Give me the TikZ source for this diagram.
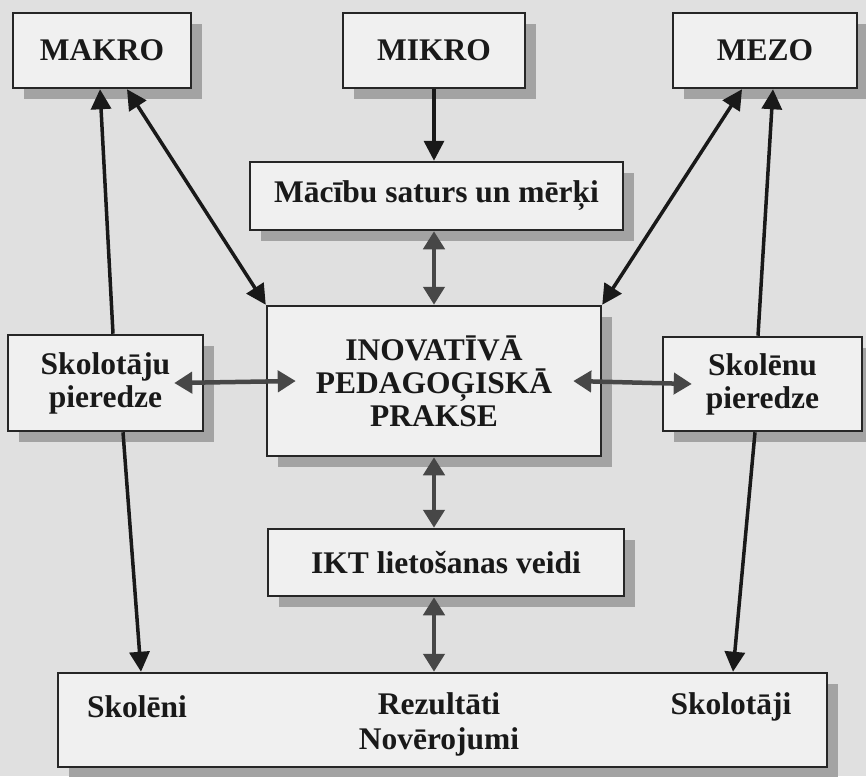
\documentclass[tikz,border=0pt]{standalone}
\usepackage{fontspec}
\setmainfont{Liberation Serif}
\usetikzlibrary{arrows.meta,shadows}

\tikzset{
  box/.style={draw=black!85, line width=2.5pt, fill=black!6, inner sep=0pt, align=center,
    font=\bfseries\fontsize{31.5}{33}\selectfont, text=black!90,
    drop shadow={shadow xshift=11pt, shadow yshift=-11pt, fill=black!36, opacity=1}},
  lbl/.style={inner sep=0pt, align=center, font=\bfseries\fontsize{31.5}{35}\selectfont, text=black!90},
  blk/.style={draw=black!90, line width=3.5pt, -{Triangle[length=20pt,width=20pt]}},
  blkk/.style={draw=black!90, line width=3.5pt,
    {Triangle[length=20pt,width=20pt]}-{Triangle[length=20pt,width=20pt]}},
  gry/.style={draw=black!72, line width=4.5pt,
    {Triangle[length=18pt,width=21pt]}-{Triangle[length=18pt,width=21pt]}},
}

\begin{document}
\begin{tikzpicture}[x=1pt,y=-1pt]
    \useasboundingbox (0,0) rectangle (866,776);
    \fill[black!12] (0,0) rectangle (866,776);

    \node[box, minimum width=178pt, minimum height=75pt] (makro) at (102,50.5) {MAKRO};
    \node[box, minimum width=182pt, minimum height=75pt] (mikro) at (434,50.5) {MIKRO};
    \node[box, minimum width=184pt, minimum height=75pt] (mezo) at (765,50.5) {MEZO};
    \node[box, minimum width=373pt, minimum height=68pt] (macibu) at (436.5,196) {Mācību saturs un mērķi};
    \node[box, minimum width=195pt, minimum height=96pt] (skolp) at (105.5,383) {Skolotāju\\pieredze};
    \node[box, minimum width=334pt, minimum height=150pt] (inov) at (434,381) {INOVATĪVĀ\\PEDAGOĢISKĀ\\PRAKSE};
    \node[box, minimum width=199pt, minimum height=94pt] (skolenp) at (762.5,384) {Skolēnu\\pieredze};
    \node[box, minimum width=356pt, minimum height=67pt] (ikt) at (446,562.5) {IKT lietošanas veidi};
    \node[box, minimum width=769pt, minimum height=94pt] (rezbox) at (442.5,720) {};
    \node[lbl] (skoleni) at (137,707) {Skolēni};
    \node[lbl] (rezultati) at (439,724) {Rezultāti\\Novērojumi};
    \node[lbl] (skolotaji) at (731,707) {Skolotāji};

    \path (mikro.south) edge[blk] (mikro.south |- macibu.north);
    \path (inov.north |- macibu.south) edge[gry] (inov.north);
    \path (inov.south) edge[gry] (inov.south |- ikt.north);
    \path (ikt.south -| inov.south) edge[gry] (inov.south |- rezbox.north);
    \path ([xshift=25pt]makro.south) edge[blkk] (inov.north west);
    \path ([xshift=-23pt]mezo.south) edge[blkk] (inov.north east);
    \path ([xshift=7.5pt]skolp.north) edge[blk] ([xshift=-2pt]makro.south);
    \path ([xshift=17.5pt]skolp.south) edge[blk] ([xshift=4pt]skoleni |- rezbox.north);
    \path ([xshift=-4.5pt]skolenp.north) edge[blk] ([xshift=8pt]mezo.south);
    \path ([xshift=-7.5pt]skolenp.south) edge[blk] ([xshift=2pt]skolotaji |- rezbox.north);
    \path ([xshift=-30pt]skolp.east) edge[gry] ([xshift=30pt]inov.west);
    \path ([xshift=-29pt]inov.east) edge[gry] ([xshift=30pt]skolenp.west);
\end{tikzpicture}
\end{document}
